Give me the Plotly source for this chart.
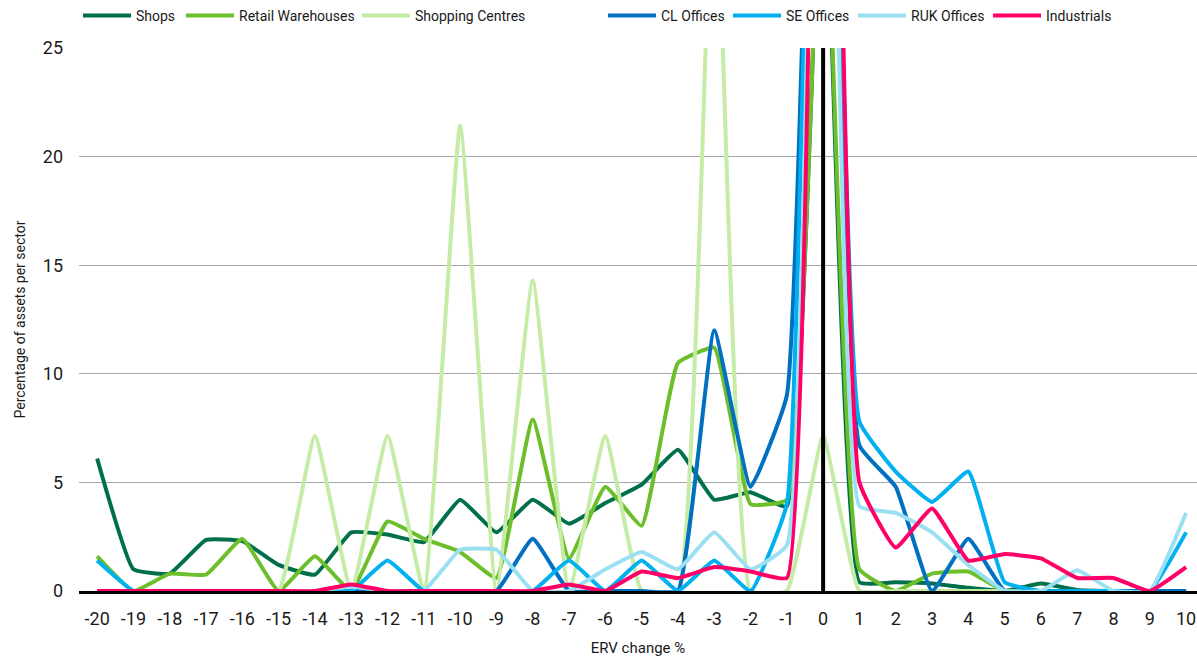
import plotly.graph_objects as go

erv_change = list(range(-20, 11))
tick_labels = [str(v) for v in erv_change]

shops = [6.1, 1.0, 0.8, 2.35, 2.3, 1.2, 0.75, 2.7, 2.6, 2.25, 4.2, 2.7, 4.2, 3.1, 4.05, 4.9,
         6.5, 4.2, 4.55, 3.9, 36.0, 0.4, 0.4, 0.35, 0.15, 0.0, 0.35, 0.05, 0.0, 0.0, 0.0]
retail_warehouses = [1.6, 0.0, 0.8, 0.75, 2.4, 0.0, 1.6, 0.0, 3.2, 2.4, 1.8, 0.6, 7.9, 1.5, 4.8, 3.0,
                     10.5, 11.2, 4.0, 4.2, 36.0, 1.0, 0.0, 0.8, 0.9, 0.0, 0.0, 0.0, 0.0, 0.0, 0.0]
shopping_centres = [0.0, 0.0, 0.0, 0.0, 0.0, 0.0, 7.14, 0.0, 7.14, 0.0, 21.43, 0.0, 14.29, 0.0, 7.14, 0.0,
                    0.0, 35.71, 0.0, 0.0, 7.14, 0.0, 0.0, 0.0, 0.0, 0.0, 0.0, 0.0, 0.0, 0.0, 0.0]
cl_offices = [0.0, 0.0, 0.0, 0.0, 0.0, 0.0, 0.0, 0.0, 0.0, 0.0, 0.0, 0.0, 2.4, 0.0, 0.0, 0.0,
              0.0, 12.0, 4.8, 9.0, 58.0, 6.7, 4.8, 0.0, 2.4, 0.0, 0.0, 0.0, 0.0, 0.0, 0.0]
se_offices = [1.4, 0.0, 0.0, 0.0, 0.0, 0.0, 0.0, 0.0, 1.4, 0.0, 0.0, 0.0, 0.0, 1.4, 0.0, 1.4,
              0.0, 1.4, 0.0, 4.0, 63.0, 7.8, 5.5, 4.1, 5.5, 0.4, 0.0, 0.0, 0.0, 0.0, 2.7]
ruk_offices = [0.0, 0.0, 0.0, 0.0, 0.0, 0.0, 0.0, 0.2, 0.0, 0.0, 1.9, 1.9, 0.0, 0.0, 1.0, 1.8,
               1.0, 2.7, 1.0, 2.1, 70.0, 3.9, 3.6, 2.7, 1.2, 0.0, 0.0, 0.95, 0.0, 0.0, 3.6]
industrials = [0.0, 0.0, 0.0, 0.0, 0.0, 0.0, 0.0, 0.3, 0.0, 0.0, 0.0, 0.0, 0.0, 0.3, 0.0, 0.9,
               0.6, 1.1, 0.9, 0.6, 77.0, 5.0, 2.0, 3.8, 1.4, 1.7, 1.5, 0.6, 0.6, 0.0, 1.1]

series_names = ["Shops", "Retail Warehouses", "Shopping Centres", "CL Offices",
                "SE Offices", "RUK Offices", "Industrials"]
series_values = [shops, retail_warehouses, shopping_centres, cl_offices,
                 se_offices, ruk_offices, industrials]
series_colors = ["#00704A", "#6CBF2A", "#C5ECA6", "#0070C0", "#00B0F0", "#9BE0F2", "#FF0066"]

FONT = "Roboto, Liberation Sans, sans-serif"
TXT = "#1a1a1a"

# legend entry left positions (pixels) in the page
legend_px = [78, 181, 357, 603, 728, 853, 988]
PLOT_L, PLOT_R, PLOT_T, PLOT_B = 79, 1197, 48, 591
plot_w = PLOT_R - PLOT_L
plot_h = PLOT_B - PLOT_T

fig = go.Figure()
layout_legends = {}
for i, (name, vals, color) in enumerate(zip(series_names, series_values, series_colors)):
    key = "legend" if i == 0 else f"legend{i + 1}"
    fig.add_trace(go.Scatter(
        x=erv_change, y=vals, name=name, mode="lines",
        line=dict(color=color, width=4, shape="spline", smoothing=0.35),
        legend=key,
    ))
    layout_legends[key] = dict(
        x=(legend_px[i] - PLOT_L) / plot_w, xanchor="left",
        y=1 + (PLOT_T - 16) / plot_h, yanchor="middle",
        orientation="h", bgcolor="rgba(0,0,0,0)", borderwidth=0, itemwidth=48,
        font=dict(family=FONT, size=14, color=TXT),
    )

fig.add_shape(type="line", x0=0, x1=0, y0=0, y1=25, xref="x", yref="y",
              line=dict(color="black", width=4), layer="above")

fig.update_layout(
    template="none",
    width=1197, height=659,
    margin=dict(l=PLOT_L, r=1197 - PLOT_R, t=PLOT_T, b=659 - PLOT_B, autoexpand=False),
    paper_bgcolor="white", plot_bgcolor="white",
    font=dict(family=FONT, color=TXT, size=15),
    showlegend=True,
    xaxis=dict(
        range=[-20.5, 10.3], tickmode="array", tickvals=erv_change, ticktext=tick_labels,
        showgrid=False, zeroline=False, showline=True, linecolor="black", linewidth=2.5,
        layer="below traces", ticks="", ticklabeloverflow="allow", automargin=False,
        ticklabelstandoff=10, tickfont=dict(family=FONT, size=18, color=TXT),
        title=dict(text="ERV change %", font=dict(family=FONT, size=15, color=TXT), standoff=15),
    ),
    yaxis=dict(
        range=[0, 25], tickvals=[0, 5, 10, 15, 20, 25], showgrid=True, gridcolor="#A6A6A6",
        gridwidth=1, zeroline=False, showline=False, ticks="", ticklabelstandoff=15,
        automargin=False, tickfont=dict(family=FONT, size=18, color=TXT),
        title=dict(text="Percentage of assets per sector", font=dict(family=FONT, size=14, color=TXT), standoff=13),
    ),
    **layout_legends,
)

fig.write_html("out.html", config={"displayModeBar": False},
               post_script="document.body.style.margin='0';document.body.style.overflow='hidden';")
